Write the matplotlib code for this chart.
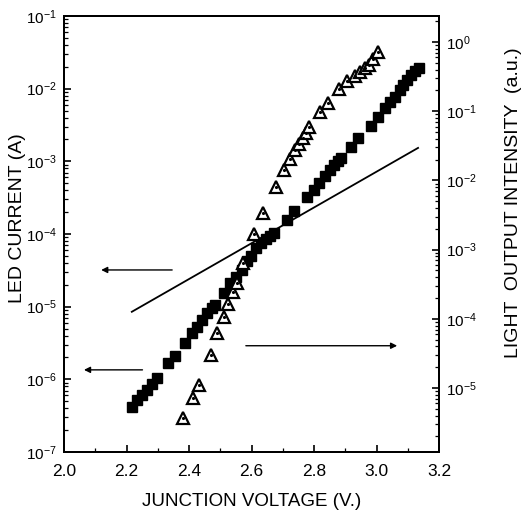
import matplotlib
matplotlib.use("Agg")
import matplotlib.pyplot as plt
from matplotlib.ticker import LogLocator, MultipleLocator, NullFormatter

plt.rcParams['font.family'] = ['Liberation Sans', 'DejaVu Sans']
plt.rcParams['mathtext.fontset'] = 'custom'
plt.rcParams['mathtext.rm'] = 'Liberation Sans'
plt.rcParams['mathtext.it'] = 'Liberation Sans'

# LED current (left axis), filled squares
sq_v = [2.217, 2.233, 2.249, 2.265, 2.281, 2.297, 2.334, 2.355, 2.387, 2.409, 2.425,
        2.441, 2.457, 2.473, 2.483, 2.512, 2.531, 2.550, 2.569, 2.585, 2.598, 2.614,
        2.630, 2.646, 2.659, 2.672, 2.713, 2.736, 2.777, 2.800, 2.816, 2.835, 2.851,
        2.864, 2.877, 2.886, 2.917, 2.941, 2.981, 3.005, 3.027, 3.043, 3.059, 3.075,
        3.085, 3.098, 3.110, 3.123, 3.136]
sq_i = [4.2e-7, 5.2e-7, 6.1e-7, 7.1e-7, 8.6e-7, 1.04e-6, 1.68e-6, 2.1e-6, 3.2e-6, 4.3e-6,
        5.2e-6, 6.6e-6, 8.2e-6, 9.6e-6, 1.05e-5, 1.54e-5, 2.1e-5, 2.6e-5, 3.2e-5, 4.3e-5,
        5.0e-5, 6.4e-5, 7.5e-5, 8.5e-5, 9.4e-5, 1.03e-4, 1.56e-4, 2.07e-4, 3.2e-4, 4.0e-4,
        5.0e-4, 6.3e-4, 7.6e-4, 8.9e-4, 1.01e-3, 1.11e-3, 1.57e-3, 2.1e-3, 3.06e-3, 4.1e-3,
        5.4e-3, 6.6e-3, 7.7e-3, 9.6e-3, 1.12e-2, 1.32e-2, 1.54e-2, 1.75e-2, 1.92e-2]

# straight reference line (left axis)
line_v = [2.217, 3.133]
line_i = [8.5e-6, 1.53e-3]

# light output (right axis), open triangles
tr_v = [2.380, 2.412, 2.433, 2.469, 2.491, 2.512, 2.526, 2.542, 2.555, 2.574, 2.608,
        2.638, 2.677, 2.704, 2.723, 2.739, 2.753, 2.766, 2.774, 2.785, 2.819, 2.846,
        2.881, 2.907, 2.931, 2.947, 2.963, 2.977, 2.990, 3.006]
tr_l = [3.65e-6, 7.1e-6, 1.1e-5, 3.0e-5, 6.2e-5, 1.07e-4, 1.64e-4, 2.4e-4, 3.3e-4, 6.4e-4,
        1.68e-3, 3.35e-3, 7.9e-3, 1.41e-2, 2.02e-2, 2.75e-2, 3.36e-2, 4.06e-2, 4.8e-2,
        5.85e-2, 9.8e-2, 0.133, 0.207, 0.273, 0.323, 0.372, 0.417, 0.465, 0.562, 0.724]

x_ticks = [2.0, 2.2, 2.4, 2.6, 2.8, 3.0, 3.2]
x_labels = ["2.0", "2.2", "2.4", "2.6", "2.8", "3.0", "3.2"]
left_ticks = [1e-7, 1e-6, 1e-5, 1e-4, 1e-3, 1e-2, 1e-1]
left_labels = [r"10$^{-7}$", r"10$^{-6}$", r"10$^{-5}$", r"10$^{-4}$", r"10$^{-3}$",
               r"10$^{-2}$", r"10$^{-1}$"]
right_ticks = [1e-5, 1e-4, 1e-3, 1e-2, 1e-1, 1e0]
right_labels = [r"10$^{-5}$", r"10$^{-4}$", r"10$^{-3}$", r"10$^{-2}$", r"10$^{-1}$",
                r"10$^{0}$"]

fig = plt.figure(figsize=(5.24, 5.13), dpi=100)
ax = fig.add_axes([64/524, 61/513, 375/524, 436/513])
ax2 = ax.twinx()

ax.set_xlim(2.0, 3.2)
ax.set_yscale('log')
ax.set_ylim(1e-7, 1e-1)
ax2.set_yscale('log')
ax2.set_ylim(10**-5.925, 10**0.376)

ax.plot(line_v, line_i, color='black', lw=1.3, zorder=3)
ax.plot(sq_v, sq_i, ls='none', marker='s', ms=7.2, color='black', zorder=4)
ax2.plot(tr_v, tr_l, ls='none', marker='^', ms=8.5, mfc='white', mec='black', mew=1.6, zorder=5)
ax2.plot(tr_v, tr_l, ls='none', marker='.', ms=2.5, color='black', zorder=6)

ax.set_xticks(x_ticks)
ax.set_xticklabels(x_labels)
ax.xaxis.set_minor_locator(MultipleLocator(0.1))
ax.set_yticks(left_ticks)
ax.set_yticklabels(left_labels)
ax.yaxis.set_minor_locator(LogLocator(base=10, subs=range(2, 10), numticks=20))
ax.yaxis.set_minor_formatter(NullFormatter())
ax2.set_yticks(right_ticks)
ax2.set_yticklabels(right_labels)
ax2.yaxis.set_minor_locator(LogLocator(base=10, subs=range(2, 10), numticks=20))
ax2.yaxis.set_minor_formatter(NullFormatter())

for a in (ax, ax2):
    a.tick_params(which='major', direction='in', length=5, width=1.2, labelsize=11, pad=5)
    a.tick_params(which='minor', direction='in', length=3, width=0.9)
    for s in a.spines.values():
        s.set_linewidth(1.4)
ax.tick_params(axis='x', pad=9, labelsize=12.5)
ax.tick_params(top=False, right=False, which='both')
ax2.tick_params(axis='y', which='both', right=True, left=False)

# arrows
arr = dict(arrowstyle='-|>', color='black', lw=1.0, mutation_scale=9)
ax.annotate('', xy=(2.11, 3.2e-5), xytext=(2.355, 3.2e-5), arrowprops=arr)
ax.annotate('', xy=(2.055, 1.35e-6), xytext=(2.26, 1.35e-6), arrowprops=arr)
ax.annotate('', xy=(3.075, 2.9e-6), xytext=(2.573, 2.9e-6), arrowprops=arr)

fig.text(18/524, 1 - 218/513, "LED CURRENT (A)", rotation=90, ha='center', va='center', fontsize=14)
fig.text(513/524, 1 - 203/513, "LIGHT  OUTPUT INTENSITY  (a.u.)", rotation=90,
         ha='center', va='center', fontsize=14)
fig.text(252/524, 1 - 502/513, "JUNCTION VOLTAGE (V.)", ha='center', va='center', fontsize=13.5)

fig.savefig("out.png", dpi=100)
